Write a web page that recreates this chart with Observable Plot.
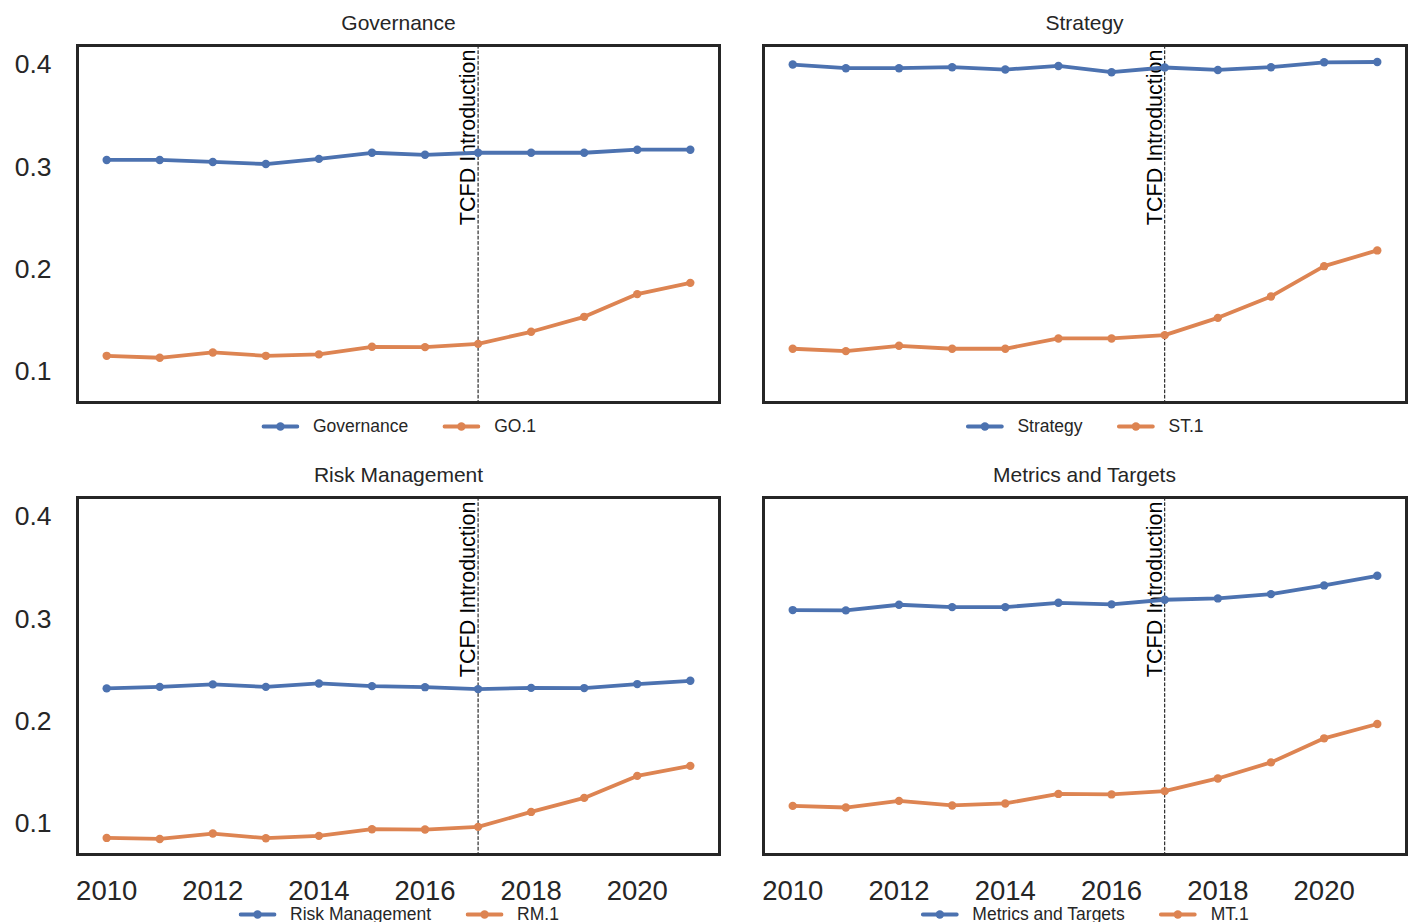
<!DOCTYPE html>
<html>
<head>
<meta charset="utf-8">
<script src="https://cdn.jsdelivr.net/npm/d3@7"></script>
<script src="https://cdn.jsdelivr.net/npm/@observablehq/plot@0.6"></script>
<style>
  html, body { margin: 0; padding: 0; background: #fff; }
  #root { position: relative; width: 1410px; height: 922px; overflow: hidden; background: #fff; }
  .title { position: absolute; font-family: 'Liberation Sans', Arial, sans-serif; font-size: 21px; color: #262626; transform: translate(-50%, -50%); white-space: nowrap; }
  .legend { position: absolute; display: flex; align-items: center; transform: translate(-50%, -50%); font-family: 'Liberation Sans', Arial, sans-serif; font-size: 17.5px; color: #262626; white-space: nowrap; }
  .legend .item { display: flex; align-items: center; margin: 0 17px; }
  .legend svg { margin-right: 14px; }
  .panel { position: absolute; }
</style>
</head>
<body>
<div id="root"></div>
<script>
// ---- data ----
const years = [2010, 2011, 2012, 2013, 2014, 2015, 2016, 2017, 2018, 2019, 2020, 2021];
const governance = [0.307, 0.307, 0.305, 0.303, 0.308, 0.314, 0.312, 0.314, 0.314, 0.314, 0.317, 0.317];
const go1 = [0.1156, 0.1137, 0.1189, 0.1156, 0.1170, 0.1244, 0.1241, 0.1273, 0.1391, 0.1537, 0.1759, 0.1869];
const strategy = [0.4002, 0.3966, 0.3966, 0.3976, 0.3953, 0.3988, 0.3927, 0.3973, 0.3949, 0.3976, 0.4024, 0.4027];
const st1 = [0.1225, 0.1202, 0.1254, 0.1225, 0.1225, 0.1326, 0.1326, 0.1358, 0.1527, 0.1736, 0.2032, 0.2186];
const riskManagement = [0.2323, 0.2338, 0.2362, 0.2338, 0.2371, 0.2345, 0.2335, 0.2316, 0.2328, 0.2326, 0.2365, 0.2397];
const rm1 = [0.0862, 0.0852, 0.0905, 0.0859, 0.0882, 0.0947, 0.0944, 0.0970, 0.1116, 0.1253, 0.1468, 0.1566];
const metricsTargets = [0.3088, 0.3085, 0.3140, 0.3117, 0.3117, 0.3159, 0.3144, 0.3189, 0.3202, 0.3244, 0.3329, 0.3423];
const mt1 = [0.1175, 0.1159, 0.1224, 0.1179, 0.1199, 0.1292, 0.1287, 0.1319, 0.1443, 0.1600, 0.1835, 0.1975];

const panelTitles = ["Governance", "Strategy", "Risk Management", "Metrics and Targets"];
const seriesNames = [["Governance", "GO.1"], ["Strategy", "ST.1"], ["Risk Management", "RM.1"], ["Metrics and Targets", "MT.1"]];
const seriesValues = [[governance, go1], [strategy, st1], [riskManagement, rm1], [metricsTargets, mt1]];
const yTicks = [0.1, 0.2, 0.3, 0.4];
const xTicks = [2010, 2012, 2014, 2016, 2018, 2020];
const tcfdYear = 2017;
const annotation = "TCFD Introduction";

const colors = ["#4c72b0", "#dd8452"];
const ink = "#262626";
const sans = "'Liberation Sans', Arial, sans-serif";

const root = document.getElementById("root");

const layout = [
  {left: 0, top: 40, width: 722, ml: 77, mr: 3, showY: true, showX: false, cx: 398.5, titleY: 22.5, legendY: 426},
  {left: 760, top: 40, width: 649, ml: 3, mr: 3, showY: false, showX: false, cx: 1084.5, titleY: 22.5, legendY: 426},
  {left: 0, top: 492, width: 722, ml: 77, mr: 3, showY: true, showX: true, cx: 398.5, titleY: 474.5, legendY: 914},
  {left: 760, top: 492, width: 649, ml: 3, mr: 3, showY: false, showX: true, cx: 1084.5, titleY: 474.5, legendY: 914}
];

panelTitles.forEach((title, i) => {
  const L = layout[i];
  const data = [];
  seriesNames[i].forEach((name, s) => {
    years.forEach((yr, k) => data.push({year: yr, value: seriesValues[i][s][k], series: name}));
  });
  const frameH = 357;
  const mb = L.showX ? 60 : 5;
  const marks = [
    Plot.ruleX([tcfdYear], {stroke: "black", strokeWidth: 1, strokeDasharray: "3.7,1.6"}),
    Plot.text([tcfdYear], {x: d => d, frameAnchor: "top", text: () => annotation, rotate: -90,
      textAnchor: "end", lineAnchor: "bottom", dy: 4, dx: -3, fontSize: 21.5, fill: "black",
      fontFamily: sans}),
    Plot.line(data, {x: "year", y: "value", z: "series", stroke: "series", strokeWidth: 3.8}),
    Plot.dot(data, {x: "year", y: "value", fill: "series", r: 4.2, stroke: "none"}),
    Plot.frame({stroke: ink, strokeWidth: 3})
  ];
  if (L.showY) marks.push(Plot.axisY(yTicks, {tickSize: 0, tickPadding: 26, tickFormat: ".1f", fontSize: 26.5, fill: ink, label: null, fontFamily: sans}));
  if (L.showX) marks.push(Plot.axisX(xTicks, {tickSize: 0, tickPadding: 26, tickFormat: "d", fontSize: 27.5, fill: ink, label: null, fontFamily: sans}));
  const chart = Plot.plot({
    width: L.width,
    height: 5 + frameH + mb,
    marginTop: 5,
    marginBottom: mb,
    marginLeft: L.ml,
    marginRight: L.mr,
    x: {domain: [2009.45, 2021.55], axis: null},
    y: {domain: [0.0700, 0.4188], axis: null},
    color: {domain: seriesNames[i], range: colors},
    style: {background: "transparent", overflow: "visible"},
    marks
  });
  chart.classList.add("panel");
  chart.style.left = L.left + "px";
  chart.style.top = L.top + "px";
  root.appendChild(chart);

  const t = document.createElement("div");
  t.className = "title";
  t.textContent = title;
  t.style.left = L.cx + "px";
  t.style.top = L.titleY + "px";
  root.appendChild(t);

  const lg = document.createElement("div");
  lg.className = "legend";
  lg.style.left = L.cx + "px";
  lg.style.top = L.legendY + "px";
  seriesNames[i].forEach((name, s) => {
    const item = document.createElement("div");
    item.className = "item";
    item.innerHTML = `<svg width="38" height="10"><line x1="2" y1="5" x2="36" y2="5" stroke="${colors[s]}" stroke-width="3.8" stroke-linecap="round"/><circle cx="19" cy="5" r="4.2" fill="${colors[s]}"/></svg><span>${name}</span>`;
    lg.appendChild(item);
  });
  root.appendChild(lg);
});
</script>
</body>
</html>
